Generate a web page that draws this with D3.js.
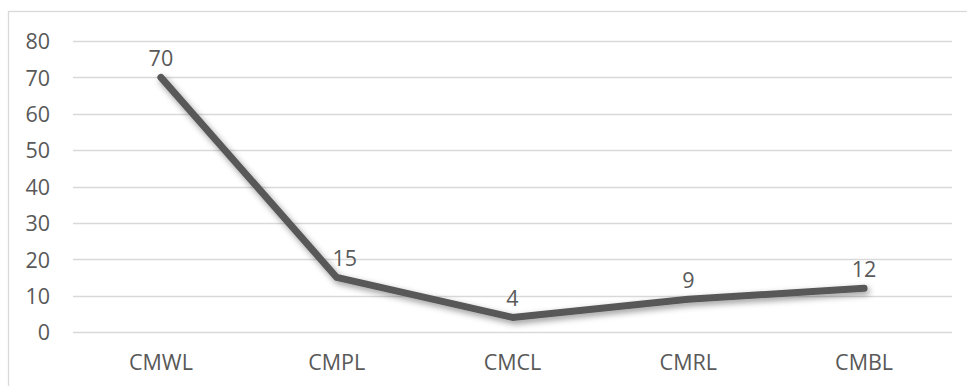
<!DOCTYPE html>
<html>
<head>
<meta charset="utf-8">
<script src="https://cdn.jsdelivr.net/npm/d3@7"></script>
<style>
  html, body { margin: 0; padding: 0; background: #ffffff; }
  svg { display: block; }
  text { font-family: "Open Sans", "Liberation Sans", sans-serif; fill: #595959; }
</style>
</head>
<body>
<svg id="chart" width="967" height="386"></svg>
<script>
// Category names along the x axis
const categories = ["CMWL", "CMPL", "CMCL", "CMRL", "CMBL"];
// Value for each category
const values = [70, 15, 4, 9, 12];
// Y axis tick values
const yTicks = [0, 10, 20, 30, 40, 50, 60, 70, 80];

const width = 967, height = 386;
const margin = { top: 41, right: 15, bottom: 54, left: 73 };
const fontSize = 21.5;

const svg = d3.select("#chart");

// Chart area frame
svg.append("rect")
  .attr("x", 8.5).attr("y", 11.5)
  .attr("width", width).attr("height", height)
  .attr("fill", "none")
  .attr("stroke", "#d9d9d9")
  .attr("stroke-width", 1.3);

const x = d3.scaleBand()
  .domain(categories)
  .range([margin.left, width - margin.right])
  .padding(0);

const y = d3.scaleLinear()
  .domain([0, 80])
  .range([height - margin.bottom, margin.top]);

// Horizontal gridlines
svg.append("g")
  .selectAll("line")
  .data(yTicks)
  .join("line")
  .attr("x1", margin.left)
  .attr("x2", width - margin.right)
  .attr("y1", d => Math.round(y(d)) + 0.5)
  .attr("y2", d => Math.round(y(d)) + 0.5)
  .attr("stroke", "#d9d9d9")
  .attr("stroke-width", 1.4);

// Y axis labels
const yAxis = d3.axisLeft(y).tickValues(yTicks).tickSize(0).tickPadding(0);
const gy = svg.append("g")
  .attr("transform", "translate(50,0)")
  .call(yAxis);
gy.select(".domain").remove();
gy.selectAll("text")
  .attr("font-size", fontSize)
  .attr("font-family", "'Open Sans', sans-serif")
  .attr("fill", "#595959")
  .attr("dy", "0.36em");

// X axis labels
const xAxis = d3.axisBottom(x).tickSize(0).tickPadding(0);
const gx = svg.append("g")
  .attr("transform", `translate(0,${height - margin.bottom})`)
  .call(xAxis);
gx.select(".domain").remove();
gx.selectAll("text")
  .attr("font-size", fontSize)
  .attr("font-family", "'Open Sans', sans-serif")
  .attr("fill", "#595959")
  .attr("y", 38)
  .attr("dy", 0);

// Soft drop shadow under the line
const defs = svg.append("defs");
const f = defs.append("filter")
  .attr("id", "lineShadow")
  .attr("x", "-10%").attr("y", "-10%")
  .attr("width", "120%").attr("height", "130%");
f.append("feDropShadow")
  .attr("dx", 2).attr("dy", 3)
  .attr("stdDeviation", 3)
  .attr("flood-color", "#000000")
  .attr("flood-opacity", 0.4);

const cx = d => x(d) + x.bandwidth() / 2;

const line = d3.line()
  .x((d, i) => cx(categories[i]))
  .y(d => y(d));

svg.append("path")
  .datum(values)
  .attr("d", line)
  .attr("fill", "none")
  .attr("stroke", "#595959")
  .attr("stroke-width", 7)
  .attr("stroke-linecap", "round")
  .attr("stroke-linejoin", "round")
  .attr("filter", "url(#lineShadow)");

// Value labels above each point; a label sitting on a steep descent
// is nudged right so it clears the line
const steepDrop = i => i > 0 && values[i - 1] - values[i] > 30;
svg.append("g")
  .selectAll("text")
  .data(values)
  .join("text")
  .attr("x", (d, i) => cx(categories[i]))
  .attr("y", d => y(d) - 11)
  .attr("dx", (d, i) => steepDrop(i) ? 8 : 0)
  .attr("text-anchor", "middle")
  .attr("font-size", fontSize)
  .attr("fill", "#404040")
  .text(d => d);
</script>
</body>
</html>
